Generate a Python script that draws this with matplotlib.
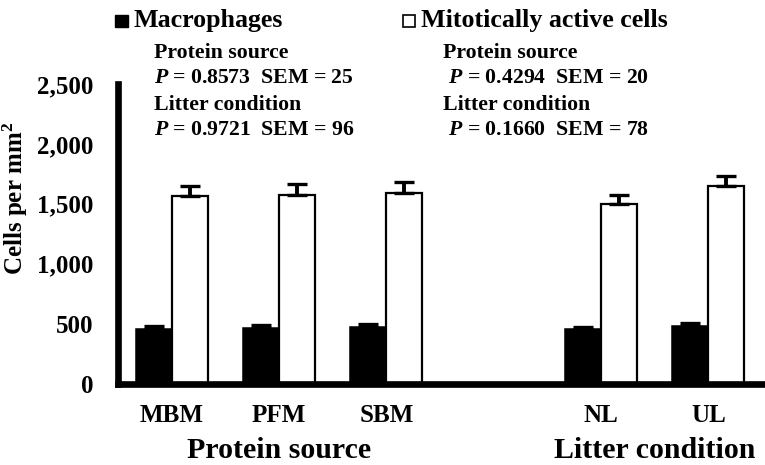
import numpy as np
import matplotlib
matplotlib.use("Agg")
import matplotlib.pyplot as plt
from matplotlib.patches import Rectangle

plt.rcParams['font.family'] = ['Liberation Serif', 'DejaVu Serif']
plt.rcParams['font.weight'] = 'bold'
plt.rcParams['mathtext.fontset'] = 'custom'
plt.rcParams['mathtext.rm'] = 'Liberation Serif:bold'
plt.rcParams['mathtext.bf'] = 'Liberation Serif:bold'
plt.rcParams['mathtext.it'] = 'Liberation Serif:italic:bold'

# ---- data ----
categories = ['MBM', 'PFM', 'SBM', '', 'NL', 'UL']
macrophages = [452, 462, 473, np.nan, 452, 479]
macrophages_err = [30, 25, 25, np.nan, 22, 22]
mitotic = [1562, 1577, 1590, np.nan, 1496, 1652]
mitotic_err = [88, 90, 93, np.nan, 79, 77]
series_names = ['Macrophages', 'Mitotically active cells']
group_labels = ['Protein source', 'Litter condition']
yticks = [0, 500, 1000, 1500, 2000, 2500]
ytick_labels = ['0', '500', '1,000', '1,500', '2,000', '2,500']
stats_left = ['Protein source', r'$P$ = 0.8573  SEM = 25',
              'Litter condition', r'$P$ = 0.9721  SEM = 96']
stats_right = ['Protein source', r' $P$ = 0.4294  SEM = 20',
               'Litter condition', r' $P$ = 0.1660  SEM = 78']

W, H = 765, 465
fig = plt.figure(figsize=(W / 100, H / 100), dpi=100)

def fx(x):
    return x / W

def fy(y):
    return 1 - y / H

ax = fig.add_axes([fx(118), fy(383.5), fx(762) - fx(118), fy(84) - fy(383.5)])

idx = np.arange(len(categories))
valid = np.array([c != '' for c in categories])
bw = 0.335
m = np.array(macrophages, dtype=float)
me = np.array(macrophages_err, dtype=float)
t = np.array(mitotic, dtype=float)
te = np.array(mitotic_err, dtype=float)
xv = idx[valid]

ax.bar(xv - bw / 2, m[valid], width=bw, color='black', edgecolor='black',
       linewidth=1.1, zorder=2)
ax.bar(xv + bw / 2, t[valid], width=bw, color='white', edgecolor='black',
       linewidth=1.6, zorder=2)
ax.errorbar(xv - bw / 2, m[valid], yerr=[np.zeros(valid.sum()), me[valid]],
            fmt='none', ecolor='black', elinewidth=2.8, capsize=7,
            capthick=2.4, zorder=3)
ax.errorbar(xv + bw / 2, t[valid], yerr=[np.zeros(valid.sum()), te[valid]],
            fmt='none', ecolor='black', elinewidth=2.8, capsize=7,
            capthick=2.4, zorder=3)

ax.set_xlim(-0.5, len(categories) - 0.5)
ax.set_ylim(0, 2500)
for s in ['top', 'right']:
    ax.spines[s].set_visible(False)
for s in ['left', 'bottom']:
    ax.spines[s].set_linewidth(4.8)
    ax.spines[s].set_capstyle('projecting')
    ax.spines[s].set_zorder(4)

ax.set_yticks(yticks)
ax.set_yticklabels(ytick_labels, fontsize=18, fontweight='bold')
ax.set_xticks(xv)
ax.set_xticklabels([c for c in categories if c != ''], fontsize=18,
                   fontweight='bold')
ax.tick_params(axis='y', length=0, pad=18)
ax.tick_params(axis='x', length=0, pad=15)

# group labels under the axis
grp_x = [np.mean(xv[:3]), np.mean(xv[3:])]
for gx, gl in zip(grp_x, group_labels):
    ax.annotate(gl, xy=(gx, 0), xycoords=('data', 'axes fraction'),
                xytext=(0, -(458.3 - 383.5) * 0.72), textcoords='offset points',
                ha='center', va='baseline', fontsize=21.5, fontweight='bold')

# y label
fig.text(fx(15), fy(198), r'Cells per mm$^{2}$', rotation=90, ha='center',
         va='center', fontsize=18, fontweight='bold')

# legend
fig.patches.append(Rectangle((fx(115), fy(27.5)), fx(13), 12.5 / H,
                             transform=fig.transFigure, facecolor='black',
                             edgecolor='black', linewidth=1))
fig.text(fx(134), fy(27.5), series_names[0], ha='left', va='baseline',
         fontsize=18.7, fontweight='bold')
fig.patches.append(Rectangle((fx(403), fy(27.5)), fx(12), 12 / H,
                             transform=fig.transFigure, facecolor='white',
                             edgecolor='black', linewidth=1.2))
fig.text(fx(421), fy(27.5), series_names[1], ha='left', va='baseline',
         fontsize=18.7, fontweight='bold')

# stats text
baselines = [57.8, 83.3, 110, 135]
for s, b in zip(stats_left, baselines):
    fig.text(fx(154), fy(b), s, ha='left', va='baseline', fontsize=15.7,
             fontweight='bold')
for s, b in zip(stats_right, baselines):
    fig.text(fx(443), fy(b), s, ha='left', va='baseline', fontsize=15.7,
             fontweight='bold')

fig.savefig('out.png', dpi=100)
